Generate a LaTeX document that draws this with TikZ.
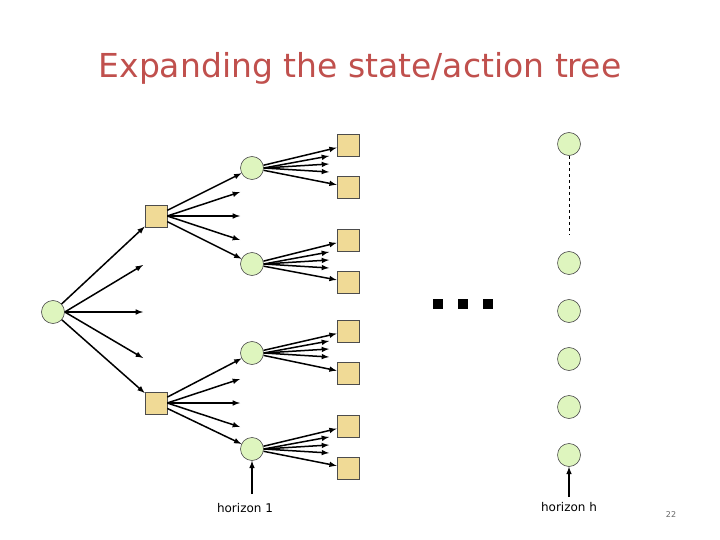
\documentclass[tikz,border=0pt]{standalone}
\usepackage{fontspec}
\setmainfont{DejaVu Sans}
\definecolor{titlec}{RGB}{192,80,77}
\definecolor{circf}{RGB}{222,245,190}
\definecolor{sqf}{RGB}{240,218,150}
\begin{document}
\begin{tikzpicture}[x=1pt,y=-1pt,
  circ/.style={circle,draw=black!70,fill=circf,minimum size=23pt,inner sep=0pt,line width=0.6pt},
  sq/.style={rectangle,draw=black!70,fill=sqf,minimum size=22pt,inner sep=0pt,line width=0.6pt},
  dotsq/.style={rectangle,fill=black,minimum size=10pt,inner sep=0pt},
  arr/.style={-latex,line width=1.5pt},
  lab/.style={font=\fontsize{12}{14}\selectfont}]
\useasboundingbox (0,0) rectangle (720,540);
\node[font=\fontsize{33}{38}\selectfont,text=titlec] (title) at (360,68) {Expanding the state/action tree};
\node[circ] (r) at (53,312) {};
\node[sq] (a1) at (156,216) {};
\node[sq] (a2) at (156,403) {};
\foreach \n/\y in {c1/168,c2/264,c3/353,c4/449} \node[circ] (\n) at (252,\y) {};
\foreach \n/\y in {s1/145,s2/187,s3/240,s4/282,s5/331,s6/373,s7/426,s8/468} \node[sq] (\n) at (348,\y) {};
\foreach \n/\y in {h1/144,h2/263,h3/311,h4/359,h5/407,h6/455} \node[circ] (\n) at (569,\y) {};
\foreach \n/\x in {d1/438,d2/463,d3/488} \node[dotsq] (\n) at (\x,304) {};
% root
\draw[arr] (r) -- (a1);
\draw[arr] (r) -- (a2);
\foreach \n/\y in {p1/265,p2/312,p3/358} {\coordinate (\n) at (143,\y); \draw[arr] (r.east) -- (\n);}
% squares
\foreach \s/\ca/\cb/\o in {a1/c1/c2/216,a2/c3/c4/403} {
  \draw[arr] (\s) -- (\ca);
  \draw[arr] (\s) -- (\cb);
  \foreach \d in {-24,0,24} {\coordinate (q) at (240,\o+\d); \draw[arr] (\s.east) -- (q);}
}
% circles to squares
\foreach \c/\sa/\sb/\o in {c1/s1/s2/168,c2/s3/s4/264,c3/s5/s6/353,c4/s7/s8/449} {
  \draw[arr] (\c) -- (\sa);
  \draw[arr] (\c) -- (\sb);
  \foreach \d in {-12,-4,4} {\coordinate (q) at (329,\o+\d); \draw[arr] (\c.east) -- (q);}
}
\coordinate (de) at (569,235);
\draw[dashed,line width=0.6pt] (h1) -- (de);
\node[lab,anchor=base] (l1) at (245,512) {horizon 1};
\node[lab,anchor=base] (lh) at (569,511) {horizon h};
\draw[arr] (252,494) -- (c4);
\draw[arr] (569,497) -- (h6);
\node[font=\fontsize{8}{9}\selectfont,text=black!60] (pg) at (671,515) {22};
\end{tikzpicture}
\end{document}
